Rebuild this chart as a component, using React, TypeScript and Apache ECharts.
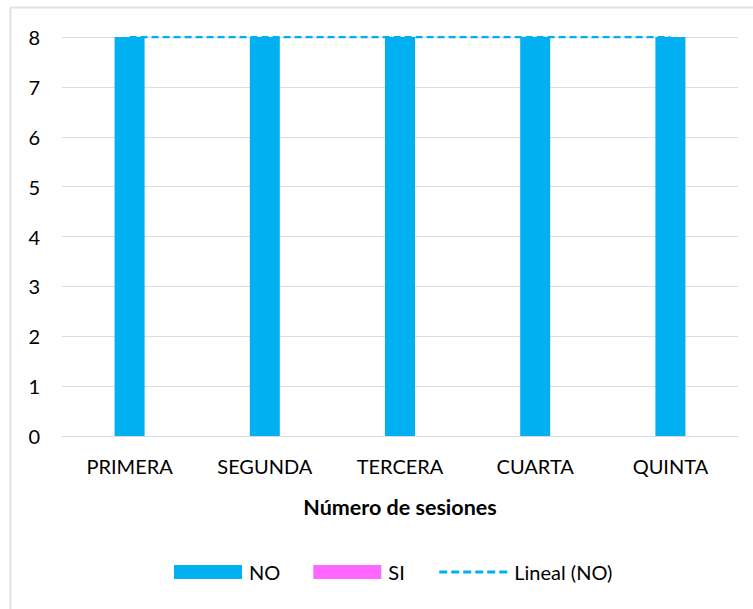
import React, { useEffect, useRef } from "react";
import * as echarts from "echarts";

const categories = ["PRIMERA", "SEGUNDA", "TERCERA", "CUARTA", "QUINTA"];
const noValues = [8, 8, 8, 8, 8];
const siValues = [0, 0, 0, 0, 0];
const trendValues = [8, 8, 8, 8, 8];
const xAxisTitle = "Número de sesiones";

const FONT = "Lato, 'Open Sans', sans-serif";
const FS = 20;

export default function App() {
  const ref = useRef<HTMLDivElement>(null);
  useEffect(() => {
    if (!ref.current) return;
    const chart = echarts.init(ref.current, undefined, { renderer: "svg" });
    chart.setOption({
      animation: false,
      backgroundColor: "#ffffff",
      textStyle: { fontFamily: FONT },
      graphic: [
        {
          type: "rect",
          shape: { x: 10.5, y: 7.5, width: 760, height: 620 },
          style: { fill: "none", stroke: "#DDE2EA", lineWidth: 2 },
          silent: true,
        },
      ],
      grid: { left: 62, right: 15, top: 37, bottom: 173, containLabel: false },
      legend: {
        bottom: 22,
        left: 169,
        itemWidth: 68,
        itemHeight: 14,
        itemGap: 33,
        textStyle: { fontSize: FS, color: "#000", fontFamily: FONT, padding: [0, 0, 0, 2] },
        data: [
          { name: "NO", icon: "rect" },
          { name: "SI", icon: "rect" },
          {
            name: "Lineal (NO)",
            itemStyle: { color: "rgba(0,0,0,0)", borderColor: "rgba(0,0,0,0)", borderWidth: 0 },
            lineStyle: { color: "#00B0F0", width: 3, type: [8, 4] },
          },
        ],
      },
      xAxis: {
        type: "category",
        data: categories,
        axisLine: { show: true, lineStyle: { color: "#D9DCE3", width: 1 } },
        axisTick: { show: false },
        axisLabel: { fontSize: FS, color: "#000", margin: 20, fontFamily: FONT },
        name: xAxisTitle,
        nameLocation: "middle",
        nameGap: 60,
        nameTextStyle: { fontSize: 21.5, fontWeight: "bold", color: "#000", fontFamily: FONT },
      },
      yAxis: {
        type: "value",
        min: 0,
        max: 8,
        interval: 1,
        axisLine: { show: false },
        axisTick: { show: false },
        axisLabel: { fontSize: FS, color: "#000", margin: 22, fontFamily: FONT },
        splitLine: { lineStyle: { color: "#D9DCE3", width: 1 } },
      },
      series: [
        {
          name: "NO",
          type: "bar",
          data: noValues,
          barWidth: 30,
          barGap: "-100%",
          itemStyle: { color: "#00B0F0" },
        },
        {
          name: "SI",
          type: "bar",
          data: siValues,
          barWidth: 30,
          itemStyle: { color: "#FF66FF" },
        },
        {
          name: "Lineal (NO)",
          type: "line",
          data: trendValues,
          symbol: "none",
          showSymbol: false,
          z: 1,
          lineStyle: { color: "#00B0F0", width: 2.5, type: [7, 4] },
          itemStyle: { color: "#00B0F0" },
        },
      ],
    });
    return () => chart.dispose();
  }, []);
  return (
    <div
      ref={ref}
      style={{ position: "fixed", left: 0, top: 0, width: 753, height: 609, background: "#fff" }}
    />
  );
}
